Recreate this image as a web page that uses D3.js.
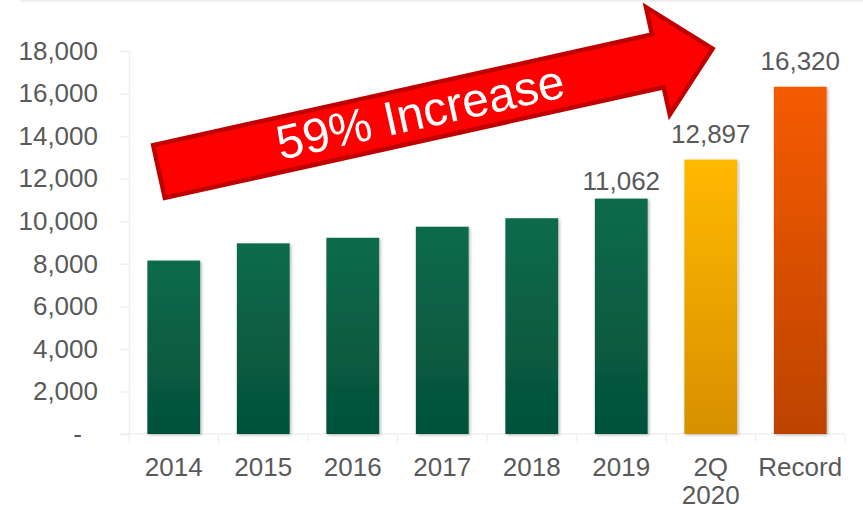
<!DOCTYPE html>
<html lang="en">
<head>
<meta charset="UTF-8">
<title>59% Increase</title>
<style>
    html, body { margin: 0; padding: 0; background: #fff; }
    svg { display: block; font-family: "Liberation Sans", Arial, sans-serif; }
    .tick-label { fill: #595959; font-size: 26px; }
    .value-label { fill: #595959; font-size: 26px; text-anchor: middle; }
</style>
</head>
<body>
<div id="chart"></div>
<script src="https://cdnjs.cloudflare.com/ajax/libs/d3/7.8.5/d3.min.js"></script>
<script>
    // data
    const categories = ["2014", "2015", "2016", "2017", "2018", "2019", "2Q 2020", "Record"];
    const values = [8150, 8960, 9220, 9740, 10140, 11062, 12897, 16320];
    const groups = ["base", "base", "base", "base", "base", "base", "current", "record"];
    const labelShown = [false, false, false, false, false, true, true, true];
    const yTicks = [0, 2000, 4000, 6000, 8000, 10000, 12000, 14000, 16000, 18000];
    const xLabelLines = [["2014"], ["2015"], ["2016"], ["2017"], ["2018"], ["2019"], ["2Q", "2020"], ["Record"]];

    const width = 863, height = 510;
    const plotLeft = 129, plotRight = 845, plotTop = 51, plotBottom = 434;

    const svg = d3.select("#chart").append("svg")
        .attr("width", width)
        .attr("height", height);

    const defs = svg.append("defs");
    const gradients = {
        base: ["#0b6b4b", "#05513a"],
        current: ["#ffb900", "#d88f00"],
        record: ["#f55b00", "#bd4300"]
    };
    Object.entries(gradients).forEach(([key, c]) => {
        const g = defs.append("linearGradient")
            .attr("id", "grad-" + key)
            .attr("x1", 0).attr("y1", 0).attr("x2", 0).attr("y2", 1);
        g.append("stop").attr("offset", "0%").attr("stop-color", c[0]);
        g.append("stop").attr("offset", "100%").attr("stop-color", c[1]);
    });
    defs.append("filter").attr("id", "shadow")
        .attr("x", "-20%").attr("y", "-10%").attr("width", "140%").attr("height", "120%")
        .append("feDropShadow")
        .attr("dx", 1.5).attr("dy", 1).attr("stdDeviation", 1.5)
        .attr("flood-color", "#000").attr("flood-opacity", 0.28);

    // faint slide border at the top
    svg.append("line")
        .attr("x1", 20).attr("x2", width).attr("y1", 1).attr("y2", 1)
        .attr("stroke", "#f0f0f0").attr("stroke-width", 2);

    const x = d3.scaleBand()
        .domain(categories)
        .range([plotLeft, plotRight])
        .paddingInner(0.41)
        .paddingOuter(0.205);

    const y = d3.scaleLinear()
        .domain([0, 18000])
        .range([plotBottom, plotTop]);

    // y axis
    const yAxis = svg.append("g")
        .attr("transform", `translate(${plotLeft},0)`)
        .call(d3.axisLeft(y).tickValues(yTicks).tickSize(9).tickPadding(22)
            .tickFormat(d => d === 0 ? "-" : d3.format(",")(d)));
    yAxis.select(".domain").attr("stroke", "#f0f0f0").attr("stroke-width", 1.5);
    yAxis.selectAll(".tick line").attr("stroke", "#f0f0f0").attr("stroke-width", 1.5);
    yAxis.attr("font-size", null).attr("font-family", null);
    yAxis.selectAll(".tick text")
        .attr("class", "tick-label")
        .attr("fill", null)
        .attr("dx", d => d === 0 ? -16 : 0);

    // x axis line
    const xAxis = svg.append("g")
        .attr("transform", `translate(0,${plotBottom})`)
        .call(d3.axisBottom(x).tickSize(0).tickFormat(""));
    xAxis.select(".domain").attr("d", `M${plotLeft - 9},0H${plotRight}`)
        .attr("stroke", "#f0f0f0").attr("stroke-width", 1.5);
    xAxis.selectAll(".tick").remove();

    // category separators
    const step = x.step();
    svg.append("g").selectAll("line")
        .data(d3.range(categories.length + 1))
        .join("line")
        .attr("x1", i => plotLeft + i * step)
        .attr("x2", i => plotLeft + i * step)
        .attr("y1", plotBottom)
        .attr("y2", plotBottom + 9)
        .attr("stroke", "#f0f0f0")
        .attr("stroke-width", 1.5);

    // category labels
    const labels = svg.append("g").selectAll("text")
        .data(categories)
        .join("text")
        .attr("class", "tick-label")
        .attr("text-anchor", "middle")
        .attr("x", d => x(d) + x.bandwidth() / 2)
        .attr("y", 476);
    labels.each(function (d, i) {
        d3.select(this).selectAll("tspan")
            .data(xLabelLines[i])
            .join("tspan")
            .attr("x", x(d) + x.bandwidth() / 2)
            .attr("dy", (t, j) => j === 0 ? 0 : 28)
            .text(t => t);
    });

    // bars
    svg.append("g").selectAll("rect")
        .data(categories)
        .join("rect")
        .attr("x", d => x(d))
        .attr("width", x.bandwidth())
        .attr("y", (d, i) => y(values[i]))
        .attr("height", (d, i) => y(0) - y(values[i]))
        .attr("fill", (d, i) => `url(#grad-${groups[i]})`)
        .attr("filter", "url(#shadow)");

    // value labels
    svg.append("g").selectAll("text")
        .data(categories.filter((d, i) => labelShown[i]))
        .join("text")
        .attr("class", "value-label")
        .attr("x", d => x(d) + x.bandwidth() / 2)
        .attr("y", d => {
            const i = categories.indexOf(d);
            return y(values[i]) - (groups[i] === "base" ? 9 : 17);
        })
        .text(d => d3.format(",")(values[categories.indexOf(d)]));

    // annotation arrow
    const arrow = svg.append("g")
        .attr("transform", "translate(159,171.5) rotate(-12.5)");
    const bodyHalf = 27, headBase = 511, headHalf = 55, tip = 567;
    arrow.append("path")
        .attr("d", `M0,${-bodyHalf}L${headBase},${-bodyHalf}L${headBase},${-headHalf}L${tip},0L${headBase},${headHalf}L${headBase},${bodyHalf}L0,${bodyHalf}Z`)
        .attr("fill", "#ff0000")
        .attr("stroke", "#c00000")
        .attr("stroke-width", 4.5)
        .attr("stroke-linejoin", "miter");
    arrow.append("text")
        .attr("x", 268)
        .attr("y", 15)
        .attr("text-anchor", "middle")
        .attr("fill", "#fff")
        .attr("font-size", 48)
        .text("59% Increase");
</script>
</body>
</html>
